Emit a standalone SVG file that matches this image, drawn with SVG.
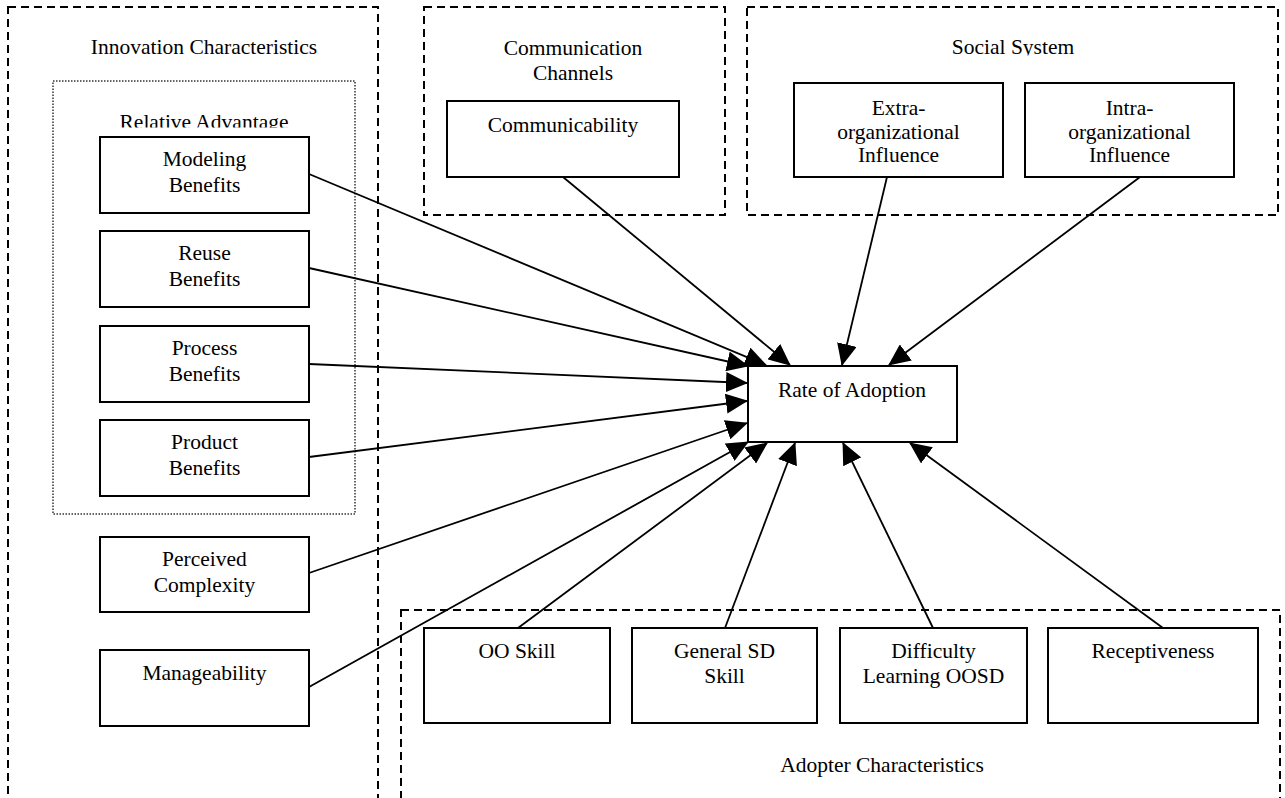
<svg xmlns="http://www.w3.org/2000/svg" width="1285" height="798" viewBox="0 0 1285 798">
<style>
  text { font-family: "Liberation Serif", "Times New Roman", serif; font-size: 21.5px; fill: #000; text-anchor: middle; }
  .grp { fill: none; stroke: #000; stroke-width: 2; stroke-dasharray: 8 5; }
  .dot { fill: none; stroke: #333; stroke-width: 1.5; stroke-dasharray: 1.5 1.5; }
  .box { fill: #fff; stroke: #000; stroke-width: 2; }
  .edge { fill: none; stroke: #000; stroke-width: 1.8; marker-end: url(#arr); }
</style>
<defs>
  <marker id="arr" viewBox="0 0 22 20" refX="21" refY="10" markerWidth="22" markerHeight="20" markerUnits="userSpaceOnUse" orient="auto">
    <path d="M0,0 L22,10 L0,20 z" fill="#000"/>
  </marker>
  <clipPath id="clipSocial"><rect x="900" y="20" width="230" height="35.5"/></clipPath>
  <clipPath id="clipRel"><rect x="60" y="100" width="290" height="27.5"/></clipPath>
</defs>
<rect width="1285" height="798" fill="#fff"/>

<g id="innovation-characteristics">
  <rect class="grp" x="8" y="7" width="370" height="810"/>
  <text x="204" y="54">Innovation Characteristics</text>
</g>
<g id="relative-advantage">
  <rect class="dot" x="53" y="81" width="302" height="433"/>
  <text x="204" y="129" clip-path="url(#clipRel)">Relative Advantage</text>
</g>
<g id="communication-channels">
  <rect class="grp" x="424" y="7" width="301" height="208"/>
  <text x="573" y="55">Communication</text>
  <text x="573" y="80">Channels</text>
</g>
<g id="social-system">
  <rect class="grp" x="747" y="7" width="531" height="208"/>
  <text x="1013" y="54" clip-path="url(#clipSocial)">Social System</text>
</g>
<g id="adopter-characteristics">
  <rect class="grp" x="401" y="610" width="879" height="210"/>
  <text x="882" y="772">Adopter Characteristics</text>
</g>

<g id="modeling-benefits">
  <rect class="box" x="100" y="137" width="209" height="76"/>
  <text x="204.5" y="166">Modeling</text>
  <text x="204.5" y="192">Benefits</text>
</g>
<g id="reuse-benefits">
  <rect class="box" x="100" y="231" width="209" height="76"/>
  <text x="204.5" y="260">Reuse</text>
  <text x="204.5" y="286">Benefits</text>
</g>
<g id="process-benefits">
  <rect class="box" x="100" y="326" width="209" height="76"/>
  <text x="204.5" y="355">Process</text>
  <text x="204.5" y="381">Benefits</text>
</g>
<g id="product-benefits">
  <rect class="box" x="100" y="420" width="209" height="76"/>
  <text x="204.5" y="449">Product</text>
  <text x="204.5" y="475">Benefits</text>
</g>
<g id="perceived-complexity">
  <rect class="box" x="100" y="537" width="209" height="75"/>
  <text x="204.5" y="566">Perceived</text>
  <text x="204.5" y="592">Complexity</text>
</g>
<g id="manageability">
  <rect class="box" x="100" y="650" width="209" height="76"/>
  <text x="204.5" y="680">Manageability</text>
</g>
<g id="communicability">
  <rect class="box" x="447" y="101" width="232" height="76"/>
  <text x="563" y="132">Communicability</text>
</g>
<g id="extra-organizational-influence">
  <rect class="box" x="794" y="83" width="209" height="94"/>
  <text x="898.5" y="115">Extra-</text>
  <text x="898.5" y="138.5">organizational</text>
  <text x="898.5" y="162">Influence</text>
</g>
<g id="intra-organizational-influence">
  <rect class="box" x="1025" y="83" width="209" height="94"/>
  <text x="1129.5" y="115">Intra-</text>
  <text x="1129.5" y="138.5">organizational</text>
  <text x="1129.5" y="162">Influence</text>
</g>
<g id="rate-of-adoption">
  <rect class="box" x="748" y="366" width="209" height="76"/>
  <text x="852" y="397">Rate of Adoption</text>
</g>
<g id="oo-skill">
  <rect class="box" x="424" y="628" width="186" height="95"/>
  <text x="517" y="658">OO Skill</text>
</g>
<g id="general-sd-skill">
  <rect class="box" x="632" y="628" width="185" height="95"/>
  <text x="724.5" y="658">General SD</text>
  <text x="724.5" y="683">Skill</text>
</g>
<g id="difficulty-learning-oosd">
  <rect class="box" x="840" y="628" width="187" height="95"/>
  <text x="933.5" y="658">Difficulty</text>
  <text x="933.5" y="683">Learning OOSD</text>
</g>
<g id="receptiveness">
  <rect class="box" x="1048" y="628" width="210" height="95"/>
  <text x="1153" y="658">Receptiveness</text>
</g>

<g id="connectors">
  <line class="edge" x1="309" y1="174" x2="766" y2="365"/>
  <line class="edge" x1="309" y1="268" x2="748" y2="366"/>
  <line class="edge" x1="309" y1="364" x2="747" y2="383"/>
  <line class="edge" x1="309" y1="457" x2="747" y2="401"/>
  <line class="edge" x1="309" y1="573" x2="747" y2="423"/>
  <line class="edge" x1="309" y1="687" x2="748" y2="442"/>
  <line class="edge" x1="563" y1="177" x2="790" y2="365"/>
  <line class="edge" x1="887" y1="177" x2="842" y2="365"/>
  <line class="edge" x1="1140" y1="177" x2="889" y2="365"/>
  <line class="edge" x1="518" y1="628" x2="767" y2="443"/>
  <line class="edge" x1="725" y1="628" x2="795" y2="443"/>
  <line class="edge" x1="933" y1="628" x2="843" y2="443"/>
  <line class="edge" x1="1163" y1="628" x2="910" y2="443"/>
</g>
</svg>
